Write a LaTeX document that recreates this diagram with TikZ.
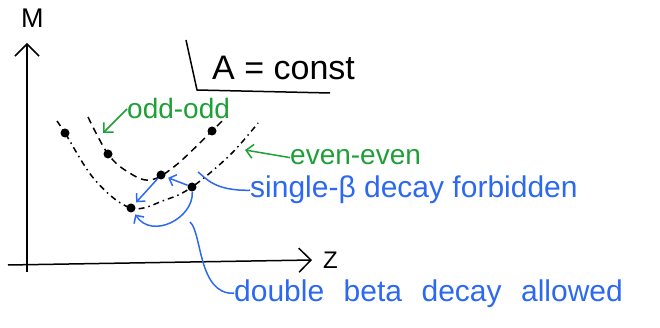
\documentclass[tikz,border=0pt]{standalone}
\usepackage{fontspec}
\setmainfont{Liberation Sans}
\usetikzlibrary{arrows.meta}

\definecolor{penblue}{RGB}{45,105,240}
\definecolor{pengreen}{RGB}{30,160,55}

\begin{document}
\begin{tikzpicture}[
    x=1pt, y=-1pt,
    axis/.style={line width=1.5pt, -{Straight Barb[length=12pt,width=24pt,line width=1.5pt]}},
    oddline/.style={line width=1.5pt, dash pattern=on 7pt off 5pt},
    evenline/.style={line width=1.5pt, dash pattern=on 6pt off 4pt on 1.5pt off 4pt},
    point/.style={circle, fill=black, inner sep=0pt, minimum size=9pt},
    hand/.style={anchor=base west, inner sep=0pt, font=\fontsize{28}{30}\selectfont},
    greennote/.style={hand, text=pengreen},
    bluenote/.style={hand, text=penblue},
    greenarrow/.style={pengreen, line width=1.5pt, -{Straight Barb[length=7pt,width=14pt,line width=1.5pt]}},
    decay/.style={penblue, line width=1.5pt, -{Straight Barb[length=6pt,width=12pt,line width=1.5pt]}, shorten >=3pt},
    pointer/.style={penblue, line width=1.5pt}
]
    \useasboundingbox (0,0) rectangle (660,328);

    % axes
    \coordinate (xstart) at (8,265);
    \coordinate (xend) at (312,260);
    \coordinate (ybot) at (27,272);
    \coordinate (ytop) at (27,43);
    \draw [axis] (xstart) -- (xend);
    \draw [axis] (ybot) -- (ytop);
    \node [hand, font=\fontsize{27}{29}\selectfont] (mlabel) at (21,28) {M};
    \node [hand, font=\fontsize{24}{26}\selectfont] (zlabel) at (323,269) {Z};

    % A = const
    \node [hand, font=\fontsize{34}{36}\selectfont] (aconst) at (212,80) {A = const};
    \draw [line width=1.5pt] (186,40) -- (197,90) -- (330,93);

    % nuclei
    \node [point] (oo1) at (108,154) {};
    \node [point] (oo2) at (161,175) {};
    \node [point] (oo3) at (212,131) {};
    \node [point] (ee1) at (65,133) {};
    \node [point] (ee2) at (131,208) {};
    \node [point] (ee3) at (192,187) {};

    % mass parabolas
    \draw [oddline] plot [smooth, tension=0.6] coordinates {(88,117) (108,154) (128,172) (150,180) (175,166) (212,131) (224,119)};
    \draw [evenline] plot [smooth, tension=0.6] coordinates {(57,121) (65,133) (95,180) (131,208) (165,200) (192,187) (230,155) (258,123)};

    % labels
    \node [greennote] (oddodd) at (127,119) {odd-odd};
    \coordinate (oddtip) at (103,133);
    \draw [greenarrow] (oddodd.west) -- (oddtip);

    \node [greennote] (eveneven) at (290,165) {even-even};
    \coordinate (eventip) at (245,150);
    \draw [greenarrow] (eveneven.west) -- (eventip);

    % beta decays
    \draw [decay] (oo2) -- (ee2);
    \draw [decay] (ee3) -- (oo2);
    \draw [decay] (ee3) .. controls (194,218) and (152,240) .. (ee2);

    \node [bluenote, font=\fontsize{30}{32}\selectfont] (single) at (250,198) {single-β decay forbidden};
    \coordinate (singleend) at (198,172);
    \draw [pointer] (single.west) .. controls (214,191) and (206,178) .. (singleend);

    \node [bluenote, font=\fontsize{30}{32}\selectfont] (double) at (234,301) {\spaceskip=0.65em\relax double beta decay allowed};
    \coordinate (doubleend) at (190,222);
    \draw [pointer] (double.west) .. controls (198,295) and (202,232) .. (doubleend);

\end{tikzpicture}
\end{document}
